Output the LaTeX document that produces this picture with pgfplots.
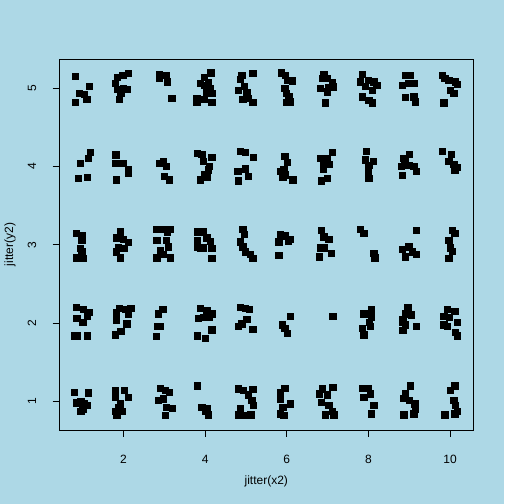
\documentclass[border=0pt]{standalone}
\usepackage{pgfplots}
\pgfplotsset{compat=1.18}
\usepackage{pgfplotstable}
\usepackage{fontspec}
\setmainfont{Liberation Sans}
\definecolor{bgblue}{HTML}{ADD8E6}
\pgfplotstableread{
x y
0.816 5.156
1.167 5.028
0.922 4.934
1.037 4.922
1.102 4.862
0.816 4.819
2.122 5.190
1.984 5.169
1.853 5.139
1.796 5.062
1.853 4.986
2.000 4.998
2.082 4.986
1.935 4.934
1.902 4.858
2.881 5.181
2.881 5.126
3.044 5.169
3.077 5.083
3.183 4.870
4.139 5.199
3.976 5.139
3.878 5.062
3.976 5.041
4.082 5.071
4.122 5.000
4.163 4.934
4.041 4.956
3.796 4.870
3.796 4.819
3.976 4.858
4.163 4.819
4.894 5.169
5.163 5.190
4.853 5.113
4.951 5.028
4.812 4.977
5.016 4.943
4.918 4.858
5.057 4.870
5.163 4.819
5.869 5.199
5.967 5.169
6.008 5.105
6.131 5.096
5.951 5.000
5.984 4.934
6.049 4.892
6.090 4.828
5.984 4.819
6.905 5.181
6.865 5.126
6.987 5.126
7.109 5.071
7.126 5.020
7.028 5.011
6.824 4.998
6.987 4.956
6.946 4.815
7.845 5.181
7.804 5.083
7.992 5.105
8.131 5.083
8.200 5.041
7.927 5.028
8.090 4.977
7.845 4.892
8.008 4.849
8.090 4.815
8.905 5.169
9.027 5.169
8.823 5.041
8.970 5.062
9.109 5.062
8.905 4.883
9.109 4.892
9.149 4.828
9.802 5.169
9.868 5.126
9.966 5.105
10.129 5.083
10.170 5.054
10.007 4.977
10.088 4.934
9.843 4.815
1.184 4.184
1.143 4.107
0.939 4.043
0.898 3.852
1.118 3.860
1.812 4.150
1.800 4.043
1.984 4.043
2.122 3.958
2.122 3.916
1.820 3.830
2.881 4.043
2.979 4.065
3.044 4.000
3.000 3.873
3.126 3.830
3.802 4.171
3.918 4.158
4.163 4.116
3.959 4.065
4.106 4.000
4.082 3.958
3.976 3.894
3.878 3.830
4.041 3.860
4.853 4.199
4.976 4.184
5.180 4.116
4.976 3.971
4.802 3.937
5.057 3.873
4.812 3.818
5.951 4.129
6.008 4.056
5.845 3.937
5.927 3.958
5.967 3.894
6.147 3.830
5.902 3.860
7.109 4.184
6.824 4.107
6.987 4.107
6.905 4.043
7.028 4.031
6.889 3.971
6.848 3.818
6.987 3.852
7.943 4.199
7.927 4.086
8.114 4.065
8.008 4.014
7.992 3.945
7.992 3.886
8.008 3.852
9.000 4.158
8.864 4.107
8.888 4.065
8.807 4.000
8.986 4.014
9.109 4.000
9.166 3.937
8.823 3.886
9.802 4.193
10.031 4.158
9.966 4.065
10.088 4.031
10.170 3.988
10.113 3.958
0.841 3.144
0.980 3.123
0.980 3.059
0.939 2.952
0.980 2.910
0.841 2.833
1.004 2.824
1.918 3.165
1.837 3.089
2.000 3.072
2.122 3.029
1.878 2.961
1.820 2.910
1.918 2.833
2.016 2.952
2.816 3.199
2.979 3.199
3.142 3.199
3.077 3.157
2.816 3.059
3.044 3.059
3.101 2.974
2.897 2.931
2.816 2.833
2.979 2.876
3.142 2.833
3.801 3.165
3.959 3.165
3.801 3.059
3.804 2.974
3.943 2.961
4.122 3.046
4.163 2.952
4.041 3.089
4.163 2.824
3.878 2.952
4.918 3.199
4.951 3.131
4.853 3.037
4.918 2.974
4.976 2.910
5.098 2.876
5.163 2.824
5.845 3.131
5.951 3.114
5.801 3.037
6.090 3.072
6.033 3.046
5.804 2.867
6.848 3.187
6.905 3.101
7.028 3.072
6.824 2.961
6.905 2.961
7.093 2.888
6.800 2.846
7.804 3.199
7.886 3.144
8.131 2.888
8.155 2.833
9.166 3.187
8.823 2.944
8.986 2.974
9.068 2.910
9.166 2.876
8.905 2.846
10.047 3.187
10.113 3.144
9.966 3.059
10.007 2.961
10.047 2.918
9.966 2.824
0.841 2.199
1.020 2.176
1.167 2.134
1.118 2.091
0.857 2.061
1.004 2.006
0.801 1.836
0.857 1.836
1.118 1.836
1.902 2.189
2.041 2.176
2.180 2.189
1.820 2.134
2.122 2.117
1.820 2.040
2.082 1.989
1.935 1.891
1.802 1.848
2.962 2.176
2.856 2.117
2.832 1.955
2.897 1.955
2.800 1.827
3.878 2.189
4.041 2.159
4.163 2.117
3.837 2.061
3.959 2.074
4.106 2.074
4.163 1.912
3.802 1.836
4.000 1.806
4.853 2.199
4.976 2.189
5.082 2.176
5.016 2.049
4.894 1.989
4.812 1.955
5.163 1.921
6.090 2.083
5.886 1.976
5.951 1.934
6.008 1.870
7.126 2.083
8.073 2.168
7.886 2.117
8.073 2.074
8.024 2.006
8.049 1.955
7.845 1.934
7.886 1.848
8.962 2.199
8.905 2.117
9.051 2.104
8.839 2.049
8.823 2.006
8.905 1.976
9.166 1.955
8.839 1.904
9.925 2.176
10.113 2.147
9.843 2.083
9.982 2.074
9.843 1.976
9.925 1.955
10.170 2.006
10.129 1.878
10.170 1.836
0.802 1.115
1.143 1.107
0.857 0.979
0.955 0.996
1.037 0.966
1.004 0.902
0.955 0.868
1.102 0.945
1.802 1.136
2.016 1.136
1.802 1.051
2.122 1.051
1.918 0.966
1.878 0.923
1.800 0.868
1.837 0.817
1.959 0.868
2.897 1.166
3.020 1.136
3.126 1.115
2.856 1.009
2.979 1.030
3.044 0.923
3.198 0.911
3.020 0.817
3.802 1.199
3.918 0.923
4.041 0.902
4.082 0.825
4.000 0.868
4.812 1.158
4.935 1.136
5.057 1.081
5.163 1.149
5.139 1.009
5.180 0.945
4.853 0.902
4.812 0.825
5.114 0.825
4.935 0.817
5.951 1.166
5.845 1.107
5.845 1.030
6.090 0.966
5.902 0.923
5.845 0.838
5.927 0.817
6.865 1.158
7.126 1.179
6.800 1.094
6.987 1.081
6.848 0.987
7.028 0.945
7.109 0.868
6.946 0.825
7.150 0.825
7.845 1.166
7.992 1.166
7.886 1.051
8.049 1.094
8.131 0.945
8.073 0.838
9.027 1.199
8.905 1.094
8.864 1.038
9.000 1.009
9.133 0.966
9.149 0.902
8.864 0.825
9.109 0.838
10.113 1.199
10.007 1.136
10.088 1.009
10.129 0.945
10.113 0.838
9.868 0.825
10.170 0.868
}\pts
\begin{document}
\begin{tikzpicture}[x=1bp,y=1bp]
\fill[bgblue] (0,0) rectangle (504,504);
\useasboundingbox (0,0) rectangle (504,504);
\begin{axis}[
  at={(59.5bp,74bp)}, anchor=south west,
  scale only axis, width=413.5bp, height=371bp,
  xmin=0.435, xmax=10.56, ymin=0.63, ymax=5.375,
  axis line style={black, line width=0.75bp},
  xtick={2,4,6,8,10}, ytick={1,2,3,4,5},
  tick align=outside, major tick length=7bp,
  tick style={black, line width=0.75bp},
  xtick pos=bottom, ytick pos=left,
  font=\fontsize{12bp}{14bp}\selectfont,
  /pgf/number format/assume math mode=true,
  xticklabel style={anchor=center, yshift=-22.7bp, inner sep=0pt},
  yticklabel style={xshift=-20.5bp, rotate=90, anchor=center, inner sep=0pt},
  xlabel={jitter(x2)}, ylabel={jitter(y2)},
  xlabel style={at={(axis description cs:0.5,-0.1394)}, anchor=center, inner sep=0pt},
  ylabel style={at={(axis description cs:-0.1197,0.5)}, anchor=center, inner sep=0pt},
  clip=false,
]
\addplot[only marks, mark=square*, mark size=3.2bp, mark options={black, fill=black, draw=none}] table[x=x,y=y] {\pts};
\end{axis}
\end{tikzpicture}
\end{document}
